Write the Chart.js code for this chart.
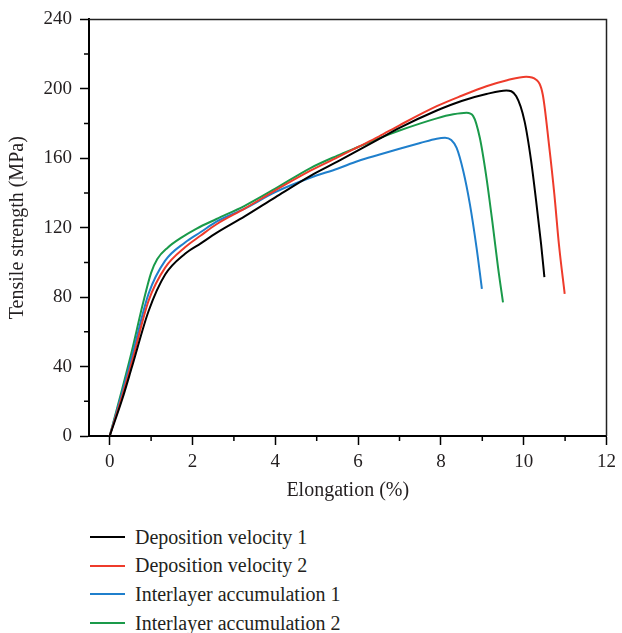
<!DOCTYPE html>
<html>
<head>
<meta charset="utf-8">
<script src="https://cdn.jsdelivr.net/npm/chart.js@4/dist/chart.umd.min.js"></script>
<style>
  html, body { margin: 0; padding: 0; background: #fff; }
  #wrap { position: relative; width: 622px; height: 633px; }
  #chartBox { position: absolute; left: 0; top: 0; width: 622px; height: 505px; }
  #legend { position: absolute; left: 90px; top: 523px; font-family: "Liberation Serif", "DejaVu Serif", serif; font-size: 20px; color: #231f20; }
  #legend .row { height: 28.6px; display: flex; align-items: center; }
  #legend .sw { width: 35px; height: 2px; margin-right: 10px; }
</style>
</head>
<body>
<div id="wrap">
  <div id="chartBox"><canvas id="c"></canvas></div>
  <div id="legend"></div>
</div>
<script>
// ---- data ----
const seriesNames = ["Deposition velocity 1", "Deposition velocity 2", "Interlayer accumulation 1", "Interlayer accumulation 2"];
const seriesColors = ["#000000", "#ee3b2b", "#1f7fcc", "#1a9a4a"];

const depVel1X = [0, 0.3, 0.54, 0.94, 1.34, 1.82, 2.2, 2.58, 3.26, 4.0, 4.86, 5.5, 6.0, 6.5, 7.0, 7.9, 8.5, 9.1, 9.58, 9.82, 10.02, 10.18, 10.3, 10.42, 10.5];
const depVel1Y = [0, 21, 40, 72, 93, 105, 111, 117, 126.5, 137.5, 150, 158, 164.5, 171, 177.5, 187.5, 193, 197, 199, 195.7, 181.4, 158.4, 135.5, 110.6, 91.5];

const depVel2X = [0, 0.3, 0.54, 0.94, 1.34, 1.82, 2.2, 2.58, 3.26, 4.0, 4.86, 5.5, 6.0, 6.5, 7.0, 7.9, 8.5, 9.1, 9.6, 10.06, 10.3, 10.46, 10.61, 10.74, 10.85, 10.99];
const depVel2Y = [0, 23, 43, 78, 97, 108.7, 115.5, 122, 131, 141.5, 153, 160.5, 166.5, 172.5, 179, 190, 196, 201.5, 205, 207, 205.3, 196.7, 168, 139.3, 110.6, 81.9];

const interAcc1X = [0, 0.3, 0.54, 0.94, 1.34, 1.82, 2.2, 2.58, 3.26, 4.0, 4.86, 5.5, 6.0, 6.5, 7.0, 7.5, 7.9, 8.1, 8.25, 8.38, 8.54, 8.7, 8.86, 8.99];
const interAcc1Y = [0, 25, 46, 82, 101, 111.5, 117.5, 123.5, 131, 140.5, 148.9, 154, 158.4, 162, 165.5, 168.8, 171.3, 171.8, 170.5, 166, 152.7, 133.6, 108.7, 84.8];

const interAcc2X = [0, 0.3, 0.54, 0.8, 1.0, 1.15, 1.4, 1.74, 2.1, 2.58, 3.26, 4.0, 4.86, 5.5, 6.0, 6.5, 7.0, 7.9, 8.3, 8.62, 8.78, 8.94, 9.1, 9.26, 9.38, 9.5];
const interAcc2Y = [0, 27, 49.4, 76, 94, 102, 108.5, 114.4, 119.5, 125, 132.6, 142.5, 154.5, 161.5, 166.5, 171.5, 176, 183, 185.3, 186.2, 184.3, 171.8, 148.9, 120.2, 97.2, 77];

const xMajorTicks = [0, 2, 4, 6, 8, 10, 12];
const xMinorTicks = [1, 3, 5, 7, 9, 11];
const yMajorTicks = [0, 40, 80, 120, 160, 200, 240];
const yMinorTicks = [20, 60, 100, 140, 180, 220];

// ---- build ----
const xs = [depVel1X, depVel2X, interAcc1X, interAcc2X];
const ys = [depVel1Y, depVel2Y, interAcc1Y, interAcc2Y];
const datasets = seriesNames.map((name, i) => ({
  label: name,
  data: xs[i].map((x, j) => ({ x: x, y: ys[i][j] })),
  borderColor: seriesColors[i],
  backgroundColor: seriesColors[i],
  borderWidth: 2,
  pointRadius: 0,
  showLine: true,
  cubicInterpolationMode: 'monotone',
  fill: false
}));

const serif = "'Liberation Serif', 'DejaVu Serif', serif";
const textColor = '#231f20';

const frameAndMinor = {
  id: 'frameAndMinor',
  afterDraw(chart) {
    const ctx = chart.ctx;
    const a = chart.chartArea;
    const xs = chart.scales.x, ys = chart.scales.y;
    ctx.save();
    ctx.strokeStyle = '#222';
    ctx.lineWidth = 1.5;
    ctx.beginPath();
    ctx.moveTo(a.left, a.top); ctx.lineTo(a.right, a.top); ctx.lineTo(a.right, a.bottom);
    ctx.stroke();
    ctx.strokeStyle = '#000';
    ctx.lineWidth = 1.5;
    ctx.beginPath();
    xMinorTicks.forEach(v => {
      const p = xs.getPixelForValue(v);
      ctx.moveTo(p, a.bottom); ctx.lineTo(p, a.bottom + 5);
    });
    yMinorTicks.forEach(v => {
      const p = ys.getPixelForValue(v);
      ctx.moveTo(a.left - 5, p); ctx.lineTo(a.left, p);
    });
    ctx.stroke();
    ctx.restore();
  }
};

const chart = new Chart(document.getElementById('c'), {
  type: 'scatter',
  data: { datasets },
  options: {
    responsive: true,
    maintainAspectRatio: false,
    animation: false,
    layout: { padding: { top: 18, right: 11, left: 0, bottom: 0 } },
    plugins: { legend: { display: false }, tooltip: { enabled: false } },
    scales: {
      x: {
        type: 'linear', min: -0.5, max: 12,
        afterBuildTicks: (axis) => { axis.ticks = xMajorTicks.map(v => ({ value: v })); },
        afterFit: (axis) => { axis.height = 69; },
        grid: { drawOnChartArea: false, drawTicks: true, tickLength: 9, tickColor: '#000', tickWidth: 1.5 },
        border: { display: true, color: '#000', width: 2 },
        ticks: { color: textColor, font: { family: serif, size: 19 }, padding: 6, maxRotation: 0 },
        title: { display: true, text: 'Elongation (%)', color: textColor, font: { family: serif, size: 20 }, padding: { top: 0, bottom: 2 } }
      },
      y: {
        type: 'linear', min: 0, max: 240,
        afterBuildTicks: (axis) => { axis.ticks = yMajorTicks.map(v => ({ value: v })); },
        afterFit: (axis) => { axis.width = 89; },
        grid: { drawOnChartArea: false, drawTicks: true, tickLength: 9, tickColor: '#000', tickWidth: 1.5 },
        border: { display: true, color: '#000', width: 2 },
        ticks: { color: textColor, font: { family: serif, size: 19 }, padding: 8 },
        title: { display: true, text: 'Tensile strength (MPa)', color: textColor, font: { family: serif, size: 20 }, padding: { top: 6, bottom: 0 } }
      }
    }
  },
  plugins: [frameAndMinor]
});

// HTML legend built from the chart's datasets
const lg = document.getElementById('legend');
chart.data.datasets.forEach(ds => {
  const row = document.createElement('div');
  row.className = 'row';
  const sw = document.createElement('span');
  sw.className = 'sw';
  sw.style.background = ds.borderColor;
  const t = document.createElement('span');
  t.textContent = ds.label;
  row.appendChild(sw); row.appendChild(t);
  lg.appendChild(row);
});
</script>
</body>
</html>
